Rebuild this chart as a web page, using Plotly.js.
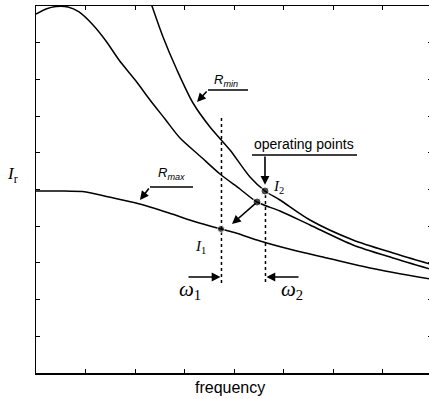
<!DOCTYPE html>
<html>
<head>
<meta charset="utf-8">
<script src="https://cdn.plot.ly/plotly-3.0.1.min.js"></script>
<style>
html,body{margin:0;padding:0;overflow:hidden;background:#fff;}
#chart{width:432px;height:399px;}
</style>
</head>
<body>
<div id="chart"></div>
<script>
// Curve for R_min (upper curve)
var rminX = [2.303, 2.343, 2.566, 2.848, 3.172, 3.515, 3.919, 4.323, 4.626, 4.929, 5.535, 6.404, 7.212, 7.960];
var rminY = [10.16, 10.0, 9.155, 8.256, 7.357, 6.703, 6.076, 5.341, 4.959, 4.714, 4.169, 3.624, 3.270, 2.970];
// Intermediate curve (peaked)
var midX = [0, 0.202, 0.404, 0.646, 0.869, 1.152, 1.414, 1.677, 2.020, 2.303, 2.606, 2.909, 3.313, 3.717, 4.121, 4.465, 4.929, 5.535, 6.404, 7.212, 7.960];
var midY = [9.78, 9.918, 9.986, 9.973, 9.837, 9.482, 9.046, 8.529, 7.956, 7.439, 6.921, 6.403, 5.913, 5.422, 5.014, 4.659, 4.414, 4.033, 3.488, 3.134, 2.834];
// Curve for R_max (lower curve)
var rmaxX = [0, 0.485, 1.010, 1.475, 2.020, 2.687, 3.232, 3.737, 4.040, 4.525, 5.192, 5.879, 6.747, 7.960];
var rmaxY = [4.959, 4.959, 4.932, 4.796, 4.632, 4.360, 4.114, 3.924, 3.815, 3.597, 3.351, 3.134, 2.861, 2.561];
// Operating points: I1, middle, I2
var opX = [3.737, 4.465, 4.626];
var opY = [3.924, 4.659, 4.959];
// Frequencies omega1, omega2
var omegaX = [3.747, 4.636];
var omegaTop = [7.03, 4.96];
var omegaBottom = [2.45, 2.48];

var black = '#000';
var traces = [
  {x: rminX, y: rminY, mode: 'lines', line: {color: black, width: 1.5, shape: 'spline', smoothing: 0.8}, hoverinfo: 'skip'},
  {x: midX, y: midY, mode: 'lines', line: {color: black, width: 1.5, shape: 'spline', smoothing: 0.8}, hoverinfo: 'skip'},
  {x: rmaxX, y: rmaxY, mode: 'lines', line: {color: black, width: 1.5, shape: 'spline', smoothing: 0.8}, hoverinfo: 'skip'},
  {x: [omegaX[0], omegaX[0]], y: [omegaBottom[0], omegaTop[0]], mode: 'lines', line: {color: black, width: 1.5, dash: 'dot'}, hoverinfo: 'skip'},
  {x: [omegaX[1], omegaX[1]], y: [omegaBottom[1], omegaTop[1]], mode: 'lines', line: {color: black, width: 1.5, dash: 'dot'}, hoverinfo: 'skip'},
  {x: opX, y: opY, mode: 'markers', marker: {color: black, size: [7, 8, 8]}, hoverinfo: 'skip'}
];

var axBase = {
  showgrid: false, zeroline: false, showline: true, linecolor: black, linewidth: 1.5,
  ticks: 'inside', ticklen: 4, tickwidth: 1, tickcolor: black, mirror: 'ticks',
  showticklabels: false, fixedrange: true
};
var xa = Object.assign({}, axBase, {range: [0, 8], tickvals: [0,1,2,3,4,5,6,7,8]});
var ya = Object.assign({}, axBase, {range: [0, 10], tickvals: [0,1,2,3,4,5,6,7,8,9,10]});

function arrow(x, y, ax, ay) {
  return {x: x, y: y, ax: ax, ay: ay, xref: 'x', yref: 'y', axref: 'x', ayref: 'y',
    showarrow: true, arrowhead: 2, arrowsize: 1.1, arrowwidth: 1.6, arrowcolor: black, text: ''};
}
function label(x, y, text, font) {
  return {x: x, y: y, xref: 'x', yref: 'y', text: text, showarrow: false, font: font};
}
var serif = {family: 'Liberation Serif, DejaVu Serif, serif', size: 15, color: black};
var sansR = {family: 'Liberation Sans, Arial, sans-serif', size: 13, color: black};
var sans = {family: 'Liberation Sans, Arial, sans-serif', size: 14, color: black};
var omegaFont = {family: 'Liberation Serif, serif', size: 21, color: black};

var layout = {
  width: 432, height: 399,
  margin: {l: 36, r: 0, t: 6, b: 26},
  paper_bgcolor: '#fff', plot_bgcolor: '#fff',
  showlegend: false,
  xaxis: xa, yaxis: ya,
  shapes: [
    {type: 'line', xref: 'x', yref: 'y', x0: 3.475, x1: 4.283, y0: 7.71, y1: 7.71, line: {color: black, width: 1.5}},
    {type: 'line', xref: 'x', yref: 'y', x0: 2.303, x1: 3.172, y0: 5.068, y1: 5.068, line: {color: black, width: 1.5}},
    {type: 'line', xref: 'x', yref: 'y', x0: 4.364, x1: 6.485, y0: 5.94, y1: 5.94, line: {color: black, width: 1.5}}
  ],
  annotations: [
    arrow(3.253, 7.384, 3.475, 7.71),
    arrow(2.101, 4.714, 2.303, 5.068),
    arrow(4.626, 5.13, 4.626, 5.94),
    arrow(3.96, 4.06, 4.465, 4.659),
    arrow(3.727, 2.616, 3.05, 2.616),
    arrow(4.656, 2.616, 5.333, 2.616),
    label(3.838, 7.98, '<i>R</i><sub><i>min</i></sub>', sansR),
    label(2.747, 5.44, '<i>R</i><sub><i>max</i></sub>', sansR),
    label(5.414, 6.24, 'operating points', sans),
    label(3.333, 3.433, '<i>I</i><sub>1</sub>', serif),
    label(4.889, 5.068, '<i>I</i><sub>2</sub>', serif),
    label(3.111, 2.262, '<i>ω</i><sub>1</sub>', omegaFont),
    label(5.172, 2.262, '<i>ω</i><sub>2</sub>', omegaFont),
    {x: 0.489, y: -0.012, xref: 'paper', yref: 'paper', yanchor: 'top', text: 'frequency', showarrow: false,
      font: {family: 'Liberation Sans, Arial, sans-serif', size: 16, color: black}},
    {x: (12 - 36) / 396, y: 0.54, xref: 'paper', yref: 'paper', xanchor: 'center', text: '<i>I</i><sub>r</sub>', showarrow: false,
      font: {family: 'Liberation Serif, serif', size: 17, color: black}}
  ]
};

Plotly.newPlot('chart', traces, layout, {displayModeBar: false, staticPlot: true});
</script>
</body>
</html>
